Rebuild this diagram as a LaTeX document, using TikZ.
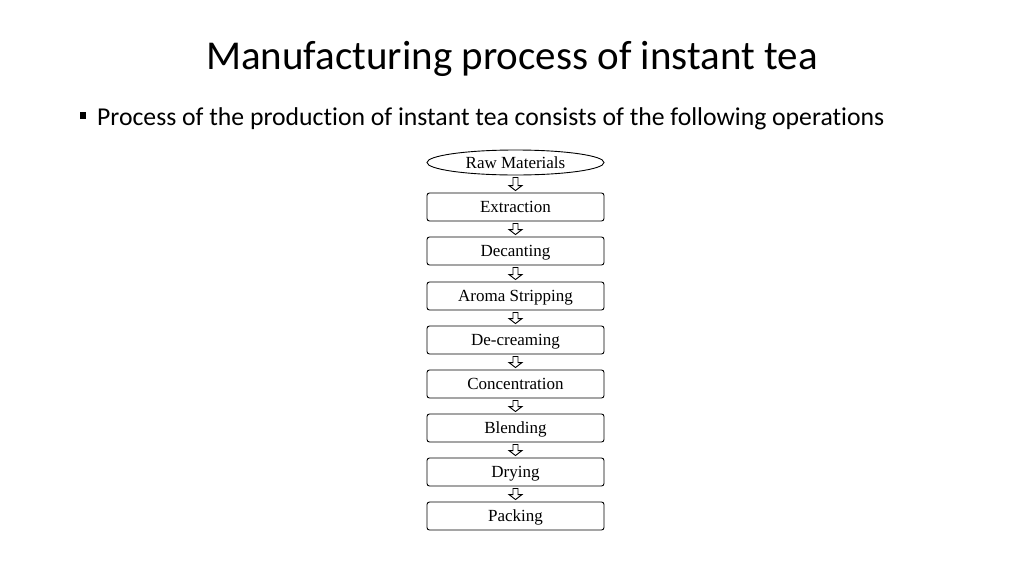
\documentclass[tikz,border=0pt]{standalone}
\usepackage{fontspec}
\setmainfont{Liberation Serif}
\newfontfamily\slidefont[Ligatures=NoCommon]{Carlito}
\usetikzlibrary{shapes.geometric,calc}

\tikzset{
  stepbox/.style={draw, line width=0.9pt, rounded corners=2.5pt, minimum width=177pt, minimum height=28pt,
    inner sep=0pt, text height=11.5pt, text depth=0pt, font=\fontsize{17}{20}\selectfont},
  startbox/.style={draw, line width=0.9pt, ellipse, minimum width=177pt, minimum height=25pt,
    inner sep=0pt, text height=11.5pt, text depth=0pt, font=\fontsize{17}{20}\selectfont},
  flowarrow/.style={line width=0.9pt, to path={
    ($(\tikztostart)+(-2.5,2)$) -- ($(\tikztotarget)+(-2.5,-7)$) -- ($(\tikztotarget)+(-6.5,-7)$)
    -- ($(\tikztotarget)+(0,-2)$) -- ($(\tikztotarget)+(6.5,-7)$) -- ($(\tikztotarget)+(2.5,-7)$)
    -- ($(\tikztostart)+(2.5,2)$) -- cycle}}
}

\begin{document}
\begin{tikzpicture}[x=1pt, y=-1pt]
  \useasboundingbox (0,0) rectangle (1024,576);

  \node[font=\slidefont\fontsize{41}{48}\selectfont] at (512,59) (title) {Manufacturing process of instant tea};
  \node[anchor=base west, inner sep=0pt, font=\slidefont\fontsize{25.7}{30}\selectfont] at (97,125) (intro) {Process of the production of instant tea consists of the following operations};
  \fill ($(intro.base west)+(-17,-6)$) rectangle ($(intro.base west)+(-11,-13)$);

  \node[startbox] at (515.5,162.5) (raw) {Raw Materials};
  \node[stepbox] at (515.5,207) (extract) {Extraction};
  \node[stepbox] at (515.5,251) (decant) {Decanting};
  \node[stepbox] at (515.5,296) (aroma) {Aroma Stripping};
  \node[stepbox] at (515.5,340) (decream) {De-creaming};
  \node[stepbox] at (515.5,384) (concen) {Concentration};
  \node[stepbox] at (515.5,428) (blend) {Blending};
  \node[stepbox] at (515.5,472) (dry) {Drying};
  \node[stepbox] at (515.5,516) (pack) {Packing};

  \draw[flowarrow] (raw.south) to (extract.north);
  \draw[flowarrow] (extract.south) to (decant.north);
  \draw[flowarrow] (decant.south) to (aroma.north);
  \draw[flowarrow] (aroma.south) to (decream.north);
  \draw[flowarrow] (decream.south) to (concen.north);
  \draw[flowarrow] (concen.south) to (blend.north);
  \draw[flowarrow] (blend.south) to (dry.north);
  \draw[flowarrow] (dry.south) to (pack.north);

\end{tikzpicture}
\end{document}
